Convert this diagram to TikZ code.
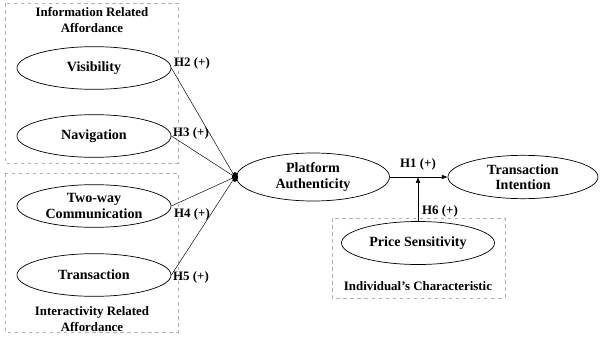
\documentclass[tikz,border=0pt]{standalone}
\usepackage{fontspec}
\setmainfont{Liberation Serif}
\usetikzlibrary{shapes.geometric,arrows.meta}
\begin{document}
\begin{tikzpicture}[x=0.03cm,y=-0.03cm,
  construct/.style={ellipse,draw,semithick,inner sep=0pt,minimum width=4.62cm,minimum height=1.28cm,align=center,font=\bfseries\fontsize{12}{13}\selectfont},
  groupbox/.style={draw=gray!60,dashed,thin},
  grouptitle/.style={align=center,font=\bfseries\fontsize{11}{13}\selectfont},
  hyp/.style={font=\bfseries\fontsize{11}{12}\selectfont,inner sep=1pt},
  link/.style={draw,thin}]
\useasboundingbox (0,0) rectangle (600,338);
% group boxes
\draw[groupbox] (5,3) rectangle (178,163);
\draw[groupbox] (5,173) rectangle (178,332);
\draw[groupbox] (332,218) rectangle (505,298);
\node[grouptitle] (t1) at (92,20) {Information Related\\Affordance};
\node[grouptitle] (t2) at (92,319) {Interactivity Related\\Affordance};
\node[grouptitle] (t3) at (418,286) {Individual’s Characteristic};
% constructs
\node[construct] (vis) at (94,68) {Visibility};
\node[construct] (nav) at (94,136) {Navigation};
\node[construct] (two) at (94,206) {Two-way\\Communication};
\node[construct] (tra) at (94,275) {Transaction};
\node[construct,minimum width=4.59cm,minimum height=1.44cm] (pa) at (313,177) {Platform\\Authenticity};
\node[construct,minimum width=4.5cm,minimum height=1.3cm] (ti) at (523,177) {Transaction\\Intention};
\node[construct,minimum width=4.59cm,minimum height=1.29cm] (ps) at (418,243) {Price Sensitivity};
% junction dot
\node[ellipse,fill,inner sep=0pt,minimum width=0.18cm,minimum height=0.3cm] (dot) at (235,177) {};
% links
\draw[link] (vis.east) -- (dot.center);
\draw[link] (nav.east) -- (dot.center);
\draw[link] (two.east) -- (dot.center);
\draw[link] (tra.east) -- (dot.center);
\draw[link,-{Latex[length=5pt,width=4pt]}] (pa.east) -- (ti.west);
\coordinate (mod) at (ps.north |- pa.east);
\draw[link,-{Latex[length=5pt,width=4pt]}] (ps.north) -- (mod);
% labels
\node[hyp] (h2) at (192,63) {H2 (+)};
\node[hyp] (h3) at (191,133) {H3 (+)};
\node[hyp] (h4) at (192,214) {H4 (+)};
\node[hyp] (h5) at (191,277) {H5 (+)};
\node[hyp] (h1) at (418,164) {H1 (+)};
\node[hyp] (h6) at (440,211) {H6 (+)};
\end{tikzpicture}
\end{document}
